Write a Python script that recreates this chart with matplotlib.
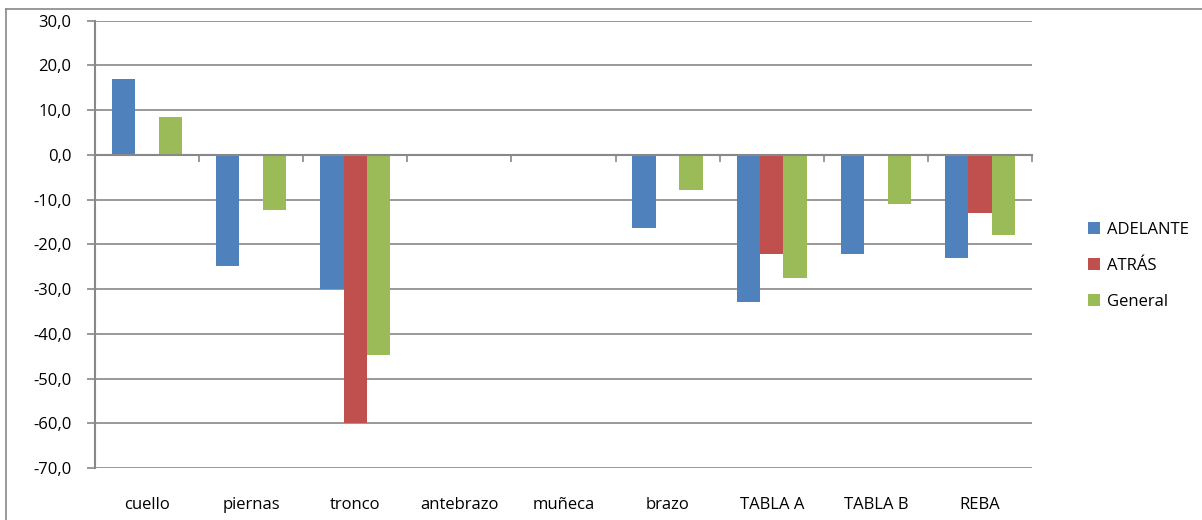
import matplotlib.pyplot as plt
import numpy as np

categorias = ['cuello', 'piernas', 'tronco', 'antebrazo', 'muñeca', 'brazo',
              'TABLA A', 'TABLA B', 'REBA']
adelante = [17.0, -24.8, -30.0, 0, 0, -16.4, -33.0, -22.1, -23.1]
atras = [0, 0, -60.0, 0, 0, 0, -22.1, 0, -13.0]
general = [8.5, -12.3, -44.8, 0, 0, -7.9, -27.5, -11.0, -18.0]
series = [('ADELANTE', adelante, '#4F81BD'),
          ('ATRÁS', atras, '#C0504D'),
          ('General', general, '#9BBB59')]

plt.rcParams['font.family'] = ['Open Sans', 'DejaVu Sans']
gris = '#888888'

fig = plt.figure(figsize=(12.02, 5.20), dpi=100)
ax = fig.add_axes([95 / 1202, 1 - 468 / 520, (1032 - 95) / 1202, (468 - 20.7) / 520])

x = np.arange(len(categorias))
w = 0.225
for i, (nombre, vals, col) in enumerate(series):
    ax.bar(x + (i - 1) * w, vals, w, color=col, label=nombre, zorder=3)

ax.set_xlim(-0.5, len(categorias) - 0.5)
ax.set_ylim(-70, 30)
ax.set_yticks(np.arange(-70, 31, 10))
ax.set_yticklabels([f'{v:.1f}'.replace('.', ',') for v in np.arange(-70, 31, 10)])
ax.yaxis.grid(True, color=gris, lw=1.2, zorder=0)
ax.tick_params(axis='y', direction='out', length=6, width=1.2, color=gris,
               labelsize=12, pad=11)

# eje de categorias en y=0
ax.spines['bottom'].set_position(('data', 0))
ax.spines['bottom'].set_color(gris)
ax.spines['bottom'].set_linewidth(1.5)
ax.spines['bottom'].set_zorder(4)
ax.set_xticks(np.arange(len(categorias) + 1) - 0.5)
ax.set_xticklabels([])
ax.tick_params(axis='x', direction='out', length=5, width=1.2, color=gris)
for i, c in enumerate(categorias):
    ax.text(i, -0.083, c, transform=ax.get_xaxis_transform(), ha='center',
            va='center', fontsize=12)

ax.spines['left'].set_color(gris)
ax.spines['left'].set_linewidth(1.5)
ax.spines['top'].set_visible(False)
ax.spines['right'].set_visible(False)

handles, labels = ax.get_legend_handles_labels()
fig.legend(handles, labels, loc='center left',
           bbox_to_anchor=(1073 / 1202, 1 - 266 / 520), frameon=False,
           fontsize=12, handlelength=0.7, handleheight=0.7,
           handletextpad=0.45, labelspacing=1.2)

# borde del area del grafico
fig.add_artist(plt.Line2D([6 / 1202, 6 / 1202], [0, 1 - 9 / 520], color=gris, lw=1.2))
fig.add_artist(plt.Line2D([6 / 1202, 1], [1 - 9 / 520, 1 - 9 / 520], color=gris, lw=1.2))

fig.savefig('out.png', dpi=100)
